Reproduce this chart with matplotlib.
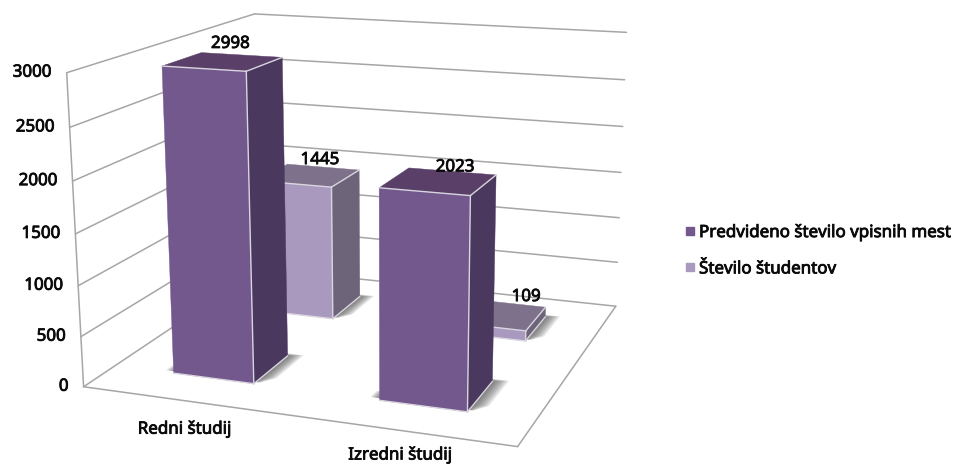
"""3D stolpci: predvideno število vpisnih mest in število študentov"""
import numpy as np
import matplotlib
matplotlib.use("Agg")
import matplotlib.pyplot as plt
import matplotlib.patheffects as pe
from matplotlib.lines import Line2D
from matplotlib.patches import Polygon

plt.rcParams["font.family"] = ["Noto Sans", "DejaVu Sans"]

categories = ["Redni študij", "Izredni študij"]
series_names = ["Predvideno število vpisnih mest", "Število študentov"]
planned = [2998, 2023]
students = [1445, 109]
y_ticks = [0, 500, 1000, 1500, 2000, 2500, 3000]

Y_MAX = 3000
BAR_W = 0.2
BAR_D = 0.2

# barve: spredaj, desno, zgoraj
COLORS = [("#73588E", "#4A385E", "#5A4069"),
          ("#A999BF", "#6D6479", "#7E718B")]
EDGE = "#D9D5DF"
GRID = "#A6A6A6"
TEXT = "#0A0A0A"
FS = 12.2
HEAVY = [pe.withStroke(linewidth=0.6, foreground=TEXT)]

# kamera: vogali okvirja (x, globina, visina) -> piksli
CAM_WORLD = [(0, 0, 0), (1, 0, 0), (1, 1, 0), (0, 1, 0),
             (0, 0, 1), (0, 1, 1), (1, 1, 1)]
CAM_PIXEL = [(82, 387), (518, 446), (615, 307), (262, 268),
             (68, 73), (253, 14), (627, 32)]


def fit_camera(world, pixel):
    rows, rhs = [], []
    for (x, y, z), (u, v) in zip(world, pixel):
        rows.append([x, y, z, 1, 0, 0, 0, 0, -u * x, -u * y, -u * z])
        rhs.append(u)
        rows.append([0, 0, 0, 0, x, y, z, 1, -v * x, -v * y, -v * z])
        rhs.append(v)
    p = np.linalg.lstsq(np.array(rows, float), np.array(rhs, float), rcond=None)[0]
    return np.append(p, 1.0).reshape(3, 4)


CAM = fit_camera(CAM_WORLD, CAM_PIXEL)


def proj(x, y, value):
    h = CAM @ np.array([x, y, value / Y_MAX, 1.0])
    return h[0] / h[2], h[1] / h[2]


fig = plt.figure(figsize=(9.6, 4.66), dpi=100)
ax = fig.add_axes([0, 0, 1, 1])
ax.set_xlim(0, 960)
ax.set_ylim(466, 0)
ax.axis("off")


def line3d(a, b, zorder=1):
    pa, pb = proj(*a), proj(*b)
    ax.plot([pa[0], pb[0]], [pa[1], pb[1]], color=GRID, lw=1.1, zorder=zorder,
            solid_capstyle="round")


# okvir in mreza
for t in y_ticks:
    line3d((0, 0, t), (0, 1, t))
    line3d((0, 1, t), (1, 1, t))
line3d((0, 0, 0), (0, 0, Y_MAX))
line3d((0, 0, 0), (1, 0, 0))
line3d((1, 0, 0), (1, 1, 0))


def face(corners, color, zorder):
    pts = [proj(*c) for c in corners]
    ax.add_patch(Polygon(pts, closed=True, facecolor=color, edgecolor=color,
                         lw=0.3, zorder=zorder, joinstyle="round"))


def shadow(x0, x1, y0, y1, zorder):
    # mehka senca na tleh, vec prosojnih plasti
    for grow in np.linspace(0.034, 0.004, 8):
        pts = [proj(x0 - grow * 0.75, y0 + 0.012, 0),
               proj(x1 + grow * 0.3, y0 + 0.012, 0),
               proj(x1 + grow, y0 + 0.05, 0),
               proj(x1 + grow, y1 + grow * 0.5, 0),
               proj(x1 - 0.01, y1 + grow * 0.5, 0),
               proj(x0 - grow * 0.75, y0 + 0.05, 0)]
        ax.add_patch(Polygon(pts, closed=True, facecolor="#404040", alpha=0.12,
                             lw=0, zorder=zorder))


def bar(xc, yc, value, colors, zorder):
    x0, x1 = xc - BAR_W / 2, xc + BAR_W / 2
    y0, y1 = yc - BAR_D / 2, yc + BAR_D / 2
    shadow(x0, x1, y0, y1, zorder)
    face([(x1, y0, 0), (x1, y1, 0), (x1, y1, value), (x1, y0, value)], colors[1], zorder + 1)
    face([(x0, y0, value), (x1, y0, value), (x1, y1, value), (x0, y1, value)], colors[2], zorder + 1)
    face([(x0, y0, 0), (x1, y0, 0), (x1, y0, value), (x0, y0, value)], colors[0], zorder + 1)
    # svetli robovi
    for a, b in [((x0, y0, value), (x1, y0, value)), ((x1, y0, value), (x1, y1, value)),
                 ((x1, y0, 0), (x1, y0, value)), ((x0, y0, 0), (x1, y0, 0)),
                 ((x1, y0, 0), (x1, y1, 0))]:
        pa, pb = proj(*a), proj(*b)
        ax.plot([pa[0], pb[0]], [pa[1], pb[1]], color=EDGE, lw=1.0, zorder=zorder + 2)


x_centers = [0.25, 0.75]
y_centers = [0.25, 0.75]
LABEL_OFFSET = {0: [(-11, -11), (3, -4)], 1: [(-3, -7), (19, -6)]}


def label(x, y, text, ha="center"):
    ax.text(x, y, text, ha=ha, va="center", fontsize=FS, color=TEXT, zorder=50,
            path_effects=HEAVY)


# najprej zadnja vrsta, potem sprednja
for s, (values, yc) in reversed(list(enumerate(zip([planned, students], y_centers)))):
    for c, (value, xc) in enumerate(zip(values, x_centers)):
        bar(xc, yc, value, COLORS[s], 10 * (2 - s) + c)

for s, (values, yc) in enumerate(zip([planned, students], y_centers)):
    for c, (value, xc) in enumerate(zip(values, x_centers)):
        px, py = proj(xc, yc + BAR_D / 2, value)
        dx, dy = LABEL_OFFSET[s][c]
        label(px + dx, py + dy, str(value))

for t in y_ticks:
    px, py = proj(0, 0, t)
    label(px - 15, py, str(t), ha="right")

for name, xc, off in zip(categories, x_centers, [(0, 29), (-1, 25)]):
    px, py = proj(xc, 0, 0)
    label(px + off[0], py + off[1], name)

handles = [Line2D([], [], ls="", marker="s", ms=5.8, color=COLORS[i][0]) for i in range(2)]
leg = ax.legend(handles, series_names, loc="upper left", bbox_to_anchor=(677, 220),
                bbox_transform=ax.transData, frameon=False, prop={"size": FS},
                labelcolor=TEXT, labelspacing=1.2, handletextpad=0.1, handlelength=0.9,
                borderpad=0.3, borderaxespad=0)
for t in leg.get_texts():
    t.set_path_effects(HEAVY)

fig.savefig("out.png", dpi=100)
plt.close()
